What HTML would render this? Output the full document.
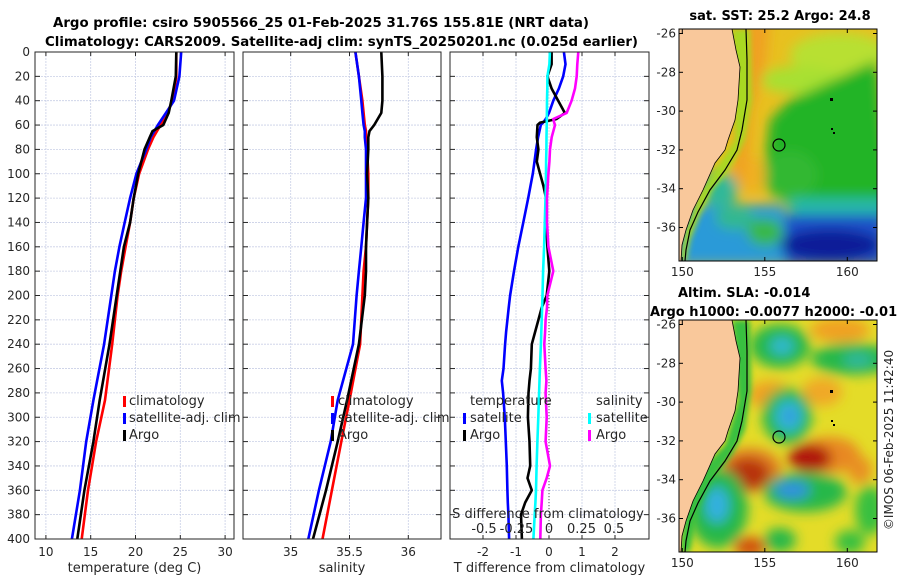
<!DOCTYPE html>
<html><head><meta charset="utf-8">
<style>
html,body{margin:0;padding:0;background:#fff;}
svg{display:block;font-family:"DejaVu Sans","Liberation Sans",sans-serif;}
.tk{font-size:12px;fill:#262626;}
.lb{font-size:13px;fill:#262626;}
.ttl{font-size:13px;font-weight:bold;fill:#000;}
</style></head>
<body>
<svg id="fig" width="900" height="580" viewBox="0 0 900 580" xmlns="http://www.w3.org/2000/svg">
<defs>
<clipPath id="c1"><rect x="35" y="52" width="199" height="487"/></clipPath>
<clipPath id="c2"><rect x="243" y="52" width="198" height="487"/></clipPath>
<clipPath id="c3"><rect x="450" y="52" width="199" height="487"/></clipPath>
<clipPath id="cm1"><rect x="679" y="29" width="198" height="232"/></clipPath>
<clipPath id="cm2"><rect x="679" y="320" width="198" height="232"/></clipPath>
<filter id="blur" x="-20%" y="-20%" width="140%" height="140%"><feGaussianBlur stdDeviation="6"/></filter>
<filter id="blur2" x="-20%" y="-20%" width="140%" height="140%"><feGaussianBlur stdDeviation="3"/></filter>
</defs>

<text class="ttl" x="53" y="27" textLength="536" lengthAdjust="spacingAndGlyphs">Argo profile: csiro 5905566_25 01-Feb-2025 31.76S 155.81E (NRT data)</text>
<text class="ttl" x="45" y="46" textLength="593" lengthAdjust="spacingAndGlyphs">Climatology: CARS2009. Satellite-adj clim: synTS_20250201.nc (0.025d earlier)</text>

<g id="panels"></g>

<!-- Top map: SST -->
<g>
<g clip-path="url(#cm1)">
<rect x="679" y="29" width="198" height="232" fill="#e8c020"/>
<g filter="url(#blur)">
<ellipse cx="840" cy="55" rx="50" ry="22" fill="#b8e030"/>
<ellipse cx="800" cy="80" rx="40" ry="14" fill="#a8e030"/>
<polygon points="790,100 877,60 890,200 820,205 790,205 770,190 765,160 770,120" fill="#22b428"/>
<ellipse cx="790" cy="175" rx="28" ry="25" fill="#30b830"/>
<ellipse cx="752" cy="175" rx="14" ry="18" fill="#f0b020"/>
<polygon points="735,20 770,20 765,70 752,110 748,160 740,190 730,180 738,120" fill="#f0a020"/>
<rect x="790" y="198" width="100" height="20" fill="#28b8a8"/>
<rect x="670" y="205" width="115" height="60" fill="#2a9ad8"/>
<ellipse cx="735" cy="218" rx="20" ry="12" fill="#30b890"/>
<ellipse cx="765" cy="232" rx="18" ry="14" fill="#38b848"/>
<rect x="785" y="215" width="100" height="50" fill="#1a50c8"/>
<ellipse cx="830" cy="245" rx="50" ry="16" fill="#0c1c98"/>
<ellipse cx="720" cy="190" rx="18" ry="18" fill="#30b898"/>
</g>
<g filter="url(#blur2)">
<polygon points="732,29 750,29 752,100 745,140 735,160 725,175 712,190 700,215 690,240 686,261 680,261 685,230 700,195 715,170 735,140" fill="#a8d820"/>
</g>
<polygon points="679,29 732,29 736,50 740,67 738,100 735,120 728,140 725,150 715,163 703,190 693,210 686,230 682,245 681,261 679,261" fill="#f9c89b" stroke="#000" stroke-width="0.8"/>
<polyline points="746,29 747,60 747,100 742,130 737,150 725,170 710,190 698,212 690,230 686,250 685,261" fill="none" stroke="#000" stroke-width="1.2"/>
<circle cx="779" cy="145" r="6" fill="none" stroke="#000" stroke-width="1.2"/>
<rect x="830" y="98" width="3" height="3" fill="#000"/><rect x="831" y="128" width="2" height="2" fill="#000"/><rect x="833" y="132" width="2" height="2" fill="#000"/>
</g>
<rect x="679" y="29" width="198" height="232" fill="none" stroke="#000" stroke-width="1"/>
</g>
<text class="ttl" x="780" y="20" text-anchor="middle">sat. SST: 25.2 Argo: 24.8</text>

<!-- Bottom map: SLA -->
<g>
<g clip-path="url(#cm2)">
<rect x="679" y="320" width="198" height="232" fill="#e4dc28"/>
<g filter="url(#blur)">
<ellipse cx="840" cy="330" rx="30" ry="12" fill="#f0a020"/>
<ellipse cx="770" cy="395" rx="22" ry="14" fill="#f0a020"/>
<ellipse cx="822" cy="392" rx="20" ry="14" fill="#f0a828"/>
<ellipse cx="780" cy="346" rx="30" ry="22" fill="#28b848"/>
<ellipse cx="782" cy="346" rx="12" ry="9" fill="#30b8d0"/>
<ellipse cx="853" cy="359" rx="42" ry="16" fill="#28b848"/>
<ellipse cx="858" cy="360" rx="15" ry="7" fill="#30b8a0"/>
<ellipse cx="787" cy="416" rx="25" ry="28" fill="#28b848"/>
<ellipse cx="789" cy="416" rx="14" ry="16" fill="#30b8d8"/>
<ellipse cx="790" cy="416" rx="6" ry="7" fill="#3090e0"/>
<ellipse cx="830" cy="455" rx="30" ry="18" fill="#e88820"/>
<ellipse cx="810" cy="458" rx="22" ry="14" fill="#b01808"/>
<ellipse cx="750" cy="470" rx="32" ry="22" fill="#e08020"/>
<ellipse cx="748" cy="474" rx="22" ry="16" fill="#b83008"/>
<ellipse cx="805" cy="492" rx="42" ry="20" fill="#28b848"/>
<ellipse cx="792" cy="490" rx="18" ry="9" fill="#3090e0"/>
<ellipse cx="718" cy="508" rx="30" ry="40" fill="#28b848"/>
<ellipse cx="717" cy="505" rx="12" ry="18" fill="#30b0e0"/>
<ellipse cx="780" cy="540" rx="16" ry="12" fill="#28b848"/>
<ellipse cx="750" cy="547" rx="16" ry="10" fill="#d05010"/>
<ellipse cx="870" cy="510" rx="15" ry="25" fill="#38c040"/>
<ellipse cx="860" cy="470" rx="12" ry="14" fill="#e89020"/>
<ellipse cx="850" cy="542" rx="15" ry="12" fill="#38c040"/>
</g>
<g filter="url(#blur2)">
<polygon points="732,320 750,320 751,390 745,430 732,455 712,480 698,510 690,552 680,552 686,505 705,465 725,445 738,400" fill="#38c040"/>
</g>
<polygon points="679,320 732,320 736,341 740,358 738,391 735,411 728,431 725,441 715,454 703,481 693,501 686,521 682,536 681,552 679,552" fill="#f9c89b" stroke="#000" stroke-width="0.8"/>
<polyline points="746,320 747,351 747,391 742,421 737,441 725,461 710,481 698,503 690,521 686,541 685,552" fill="none" stroke="#000" stroke-width="1.2"/>
<circle cx="779" cy="437" r="6" fill="none" stroke="#000" stroke-width="1.2"/>
<rect x="830" y="390" width="3" height="3" fill="#000"/><rect x="831" y="420" width="2" height="2" fill="#000"/><rect x="833" y="424" width="2" height="2" fill="#000"/>
</g>
<rect x="679" y="320" width="198" height="232" fill="none" stroke="#000" stroke-width="1"/>
</g>
<text class="ttl" x="678" y="297">Altim. SLA: -0.014</text>
<text class="ttl" x="650" y="316">Argo h1000: -0.0077 h2000: -0.01</text>
<text class="tk" x="0" y="0" transform="translate(893,440) rotate(-90)" text-anchor="middle">©IMOS 06-Feb-2025 11:42:40</text>
<g id="maptick"></g>

<script>
// ---------- data ----------
const depths = [0,20,40,50,60,65,70,80,100,120,140,160,180,200,240,286,320,360,400];
const tempClim = [24.55,24.55,24.2,23.5,22.8,22.4,22.0,21.4,20.4,19.8,19.4,18.9,18.4,18.0,17.4,16.6,15.6,14.7,14.0];
const tempSat  = [25.1,24.9,24.3,23.4,22.5,22.1,21.7,21.2,20.1,19.4,18.8,18.2,17.7,17.3,16.5,15.3,14.5,13.8,12.9];
const tempArgo = [24.55,24.5,24.0,23.7,23.1,21.9,21.6,21.0,20.3,19.8,19.4,18.7,18.3,17.9,17.1,16.0,15.3,14.3,13.5];
const salClim = [35.55,35.58,35.61,35.62,35.63,35.64,35.64,35.65,35.66,35.66,35.65,35.64,35.62,35.61,35.59,35.50,35.43,35.35,35.27];
const salSat  = [35.55,35.58,35.60,35.61,35.62,35.63,35.63,35.64,35.64,35.64,35.62,35.60,35.58,35.56,35.53,35.40,35.34,35.24,35.15];
const salArgo = [35.77,35.78,35.78,35.77,35.71,35.67,35.66,35.66,35.65,35.66,35.65,35.64,35.64,35.63,35.58,35.48,35.40,35.30,35.19];
const diffDepths = [0,10,20,30,40,50,55,58,60,70,80,90,100,110,120,140,160,180,200,210,220,230,240,260,270,280,300,320,340,350,360,370,380,400];
const tDiffSat  = [0.45,0.5,0.43,0.3,0.13,0.0,-0.1,-0.18,-0.25,-0.33,-0.39,-0.44,-0.49,-0.56,-0.63,-0.78,-0.93,-1.06,-1.18,-1.22,-1.26,-1.3,-1.33,-1.38,-1.43,-1.39,-1.34,-1.31,-1.28,-1.27,-1.26,-1.25,-1.23,-1.21];
const tDiffArgo = [0.08,0.08,-0.05,0.08,0.28,0.48,0.23,-0.27,-0.35,-0.37,-0.32,-0.37,-0.27,-0.17,-0.09,-0.09,-0.05,0.01,-0.07,-0.22,-0.32,-0.42,-0.52,-0.55,-0.59,-0.62,-0.64,-0.59,-0.57,-0.65,-0.52,-0.72,-0.85,-0.82];
const sDiffSat  = [0.007,0.003,-0.012,-0.013,-0.015,-0.016,-0.017,-0.017,-0.018,-0.019,-0.02,-0.022,-0.023,-0.025,-0.027,-0.032,-0.038,-0.045,-0.05,-0.053,-0.056,-0.059,-0.062,-0.07,-0.073,-0.076,-0.082,-0.089,-0.095,-0.098,-0.1,-0.105,-0.11,-0.12];
const sDiffArgo = [0.225,0.218,0.213,0.2,0.174,0.136,0.033,0.04,0.046,0.021,0.008,0.003,-0.005,-0.01,-0.015,-0.015,-0.005,0.033,-0.013,-0.015,-0.026,-0.03,-0.036,-0.026,-0.02,-0.026,-0.018,-0.026,0.008,-0.018,-0.051,-0.056,-0.062,-0.067];
const depthTicks = [0,20,40,60,80,100,120,140,160,180,200,220,240,260,280,300,320,340,360,380,400];
const tempTicks = [10,15,20,25,30];
const salTicks = [35,35.5,36];
const salTickLabels = ['35','35.5','36'];
const tDiffTicks = [-2,-1,0,1,2];
const sDiffTicks = [-0.5,-0.25,0,0.25,0.5];
const sDiffTickLabels = ['-0.5','-0.25','0','0.25','0.5'];

// ---------- scales ----------
const NS='http://www.w3.org/2000/svg';
const Y0=52, Y1=539;
const yD = d => Y0 + (d/400)*(Y1-Y0);
const xT = v => 135.5 + (v-20)*8.96;
const xS = v => 290.7 + (v-35)*117.6;
const xTD = v => 549 + v*33;
const xSD = v => 549 + v*130;

const root=document.getElementById('panels');
function el(tag,attrs,parent){const e=document.createElementNS(NS,tag);for(const k in attrs)e.setAttribute(k,attrs[k]);(parent||root).appendChild(e);return e;}

function panel(name,x0,x1,xticks,xlabels,xf,xlab,showY){
  const g=el('g',{});
  
  
  depthTicks.forEach(d=>{ if(d>0&&d<400){ const l=el('line',{x1:x0,x2:x1,y1:yD(d),y2:yD(d),stroke:'#c9cfe6','stroke-width':0.8,'stroke-dasharray':'2,1'},g);
    
    }});
  xticks.forEach((t,i)=>{ const X=xf(t);
    const l=el('line',{x1:X,x2:X,y1:Y0,y2:Y1,stroke:'#c9cfe6','stroke-width':0.8,'stroke-dasharray':'2,1'},g);
    
    
    el('line',{x1:X,x2:X,y1:Y1,y2:Y1-4,stroke:'#262626'},g);
    el('line',{x1:X,x2:X,y1:Y0,y2:Y0+4,stroke:'#262626'},g);
    const tx=el('text',{x:X,y:556,'text-anchor':'middle',class:'tk'},g); tx.textContent=xlabels[i];
    
    
  });
  depthTicks.forEach(d=>{
    el('line',{x1:x0,x2:x0+5,y1:yD(d),y2:yD(d),stroke:'#262626'},g);
    el('line',{x1:x1,x2:x1-5,y1:yD(d),y2:yD(d),stroke:'#262626'},g);
    if(showY){ const tx=el('text',{x:30,y:yD(d)+4,'text-anchor':'end',class:'tk'},g); tx.textContent=d;
      
      }
  });
  const xl=el('text',{x:(x0+x1)/2,y:572,'text-anchor':'middle',class:'lb'},g); xl.textContent=xlab;
  
  
  return g;
}
function series(g,clip,ds,vals,xf,color,name){
  const pts=ds.map((d,i)=>xf(vals[i]).toFixed(1)+','+yD(d).toFixed(1)).join(' ');
  const p=el('polyline',{points:pts,fill:'none',stroke:color,'stroke-width':2.6,'stroke-linejoin':'round','clip-path':'url(#'+clip+')'},g);
  
  
}
function frame(g,x0,x1){el('rect',{x:x0,y:Y0,width:x1-x0,height:Y1-Y0,fill:'none',stroke:'#262626','stroke-width':1},g);}
function legendItem(g,mx,tx,y,color,label,name){
  if(color){const m=el('rect',{x:mx,y:y-9,width:3,height:11,fill:color},g);
    
    }
  const t=el('text',{x:tx,y:y,class:'lb'},g); t.textContent=label;
  
  
}

const g1=panel('temperature-panel',35,234,tempTicks,tempTicks.map(String),xT,'temperature (deg C)',true);
series(g1,'c1',depths,tempClim,xT,'#ff0000','temp-climatology-line');
series(g1,'c1',depths,tempSat,xT,'#0000ff','temp-satellite-line');
series(g1,'c1',depths,tempArgo,xT,'#000000','temp-argo-line');
frame(g1,35,234);
legendItem(g1,123,129,405,'#ff0000','climatology','legend-climatology');
legendItem(g1,123,129,422,'#0000ff','satellite-adj. clim','legend-satellite-adj-clim');
legendItem(g1,123,129,439,'#000000','Argo','legend-argo');

const g2=panel('salinity-panel',243,441,salTicks,salTickLabels,xS,'salinity',false);
series(g2,'c2',depths,salClim,xS,'#ff0000','sal-climatology-line');
series(g2,'c2',depths,salSat,xS,'#0000ff','sal-satellite-line');
series(g2,'c2',depths,salArgo,xS,'#000000','sal-argo-line');
frame(g2,243,441);
legendItem(g2,331,338,405,'#ff0000','climatology','legend-climatology-2');
legendItem(g2,331,338,422,'#0000ff','satellite-adj. clim','legend-satellite-adj-clim-2');
legendItem(g2,331,338,439,'#000000','Argo','legend-argo-2');

const g3=panel('difference-panel',450,649,tDiffTicks,tDiffTicks.map(String),xTD,'T difference from climatology',false);
const zl=el('line',{x1:549,x2:549,y1:yD(170),y2:Y1,stroke:'#555','stroke-width':1,'stroke-dasharray':'1,2'},g3);


series(g3,'c3',diffDepths,tDiffSat,xTD,'#0000ff','tdiff-satellite-line');
series(g3,'c3',diffDepths,tDiffArgo,xTD,'#000000','tdiff-argo-line');
series(g3,'c3',diffDepths,sDiffSat,xSD,'#00ffff','sdiff-satellite-line');
series(g3,'c3',diffDepths,sDiffArgo,xSD,'#ff00ff','sdiff-argo-line');
frame(g3,450,649);
legendItem(g3,0,470,405,null,'temperature','legend-temperature-heading');
legendItem(g3,463,470,422,'#0000ff','satellite','legend-t-satellite');
legendItem(g3,463,470,439,'#000000','Argo','legend-t-argo');
legendItem(g3,0,596,405,null,'salinity','legend-salinity-heading');
legendItem(g3,588,596,422,'#00ffff','satellite','legend-s-satellite');
legendItem(g3,588,596,439,'#ff00ff','Argo','legend-s-argo');
const st=el('text',{x:548,y:518,'text-anchor':'middle',class:'lb'},g3); st.textContent='S difference from climatology';


sDiffTicks.forEach((t,i)=>{
  const tx=el('text',{x:xSD(t),y:533,'text-anchor':'middle',class:'lb'},g3); tx.textContent=sDiffTickLabels[i];
  
  
});

const mt=document.getElementById('maptick');
const latTicks=[-26,-28,-30,-32,-34,-36];
const lonTicks=[150,155,160];
const lonX = l => 682.3 + (l-150)*16.5;
[[29,261,33.5],[320,552,324.5]].forEach(([top,bot,y26],k)=>{
  latTicks.forEach(l=>{ const y=y26+(-26-l)*19.4;
    el('line',{x1:679,x2:683,y1:y,y2:y,stroke:'#000'},mt);
    el('line',{x1:877,x2:873,y1:y,y2:y,stroke:'#000'},mt);
    const t=el('text',{x:676,y:y+4,'text-anchor':'end',class:'tk'},mt); t.textContent=l;
    
    
  });
  lonTicks.forEach(l=>{ const x=lonX(l);
    el('line',{x1:x,x2:x,y1:bot,y2:bot-4,stroke:'#000'},mt);
    el('line',{x1:x,x2:x,y1:top,y2:top+4,stroke:'#000'},mt);
    const t=el('text',{x:x,y:bot+15,'text-anchor':'middle',class:'tk'},mt); t.textContent=l;
    
    
  });
});
</script>
</svg>
</body></html>
